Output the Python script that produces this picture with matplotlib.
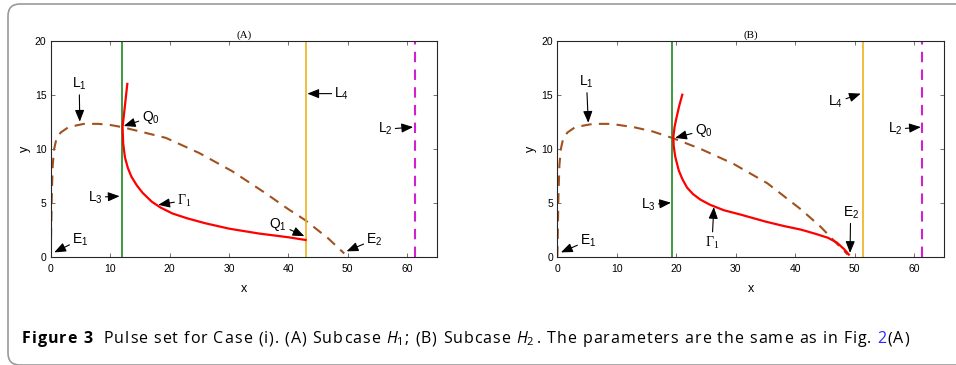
import numpy as np
import matplotlib
matplotlib.use('Agg')
import matplotlib.pyplot as plt
from matplotlib.patches import FancyBboxPatch
from matplotlib.transforms import IdentityTransform
from matplotlib.font_manager import FontProperties

plt.rcParams['font.family'] = ['Liberation Sans Narrow', 'Liberation Sans', 'DejaVu Sans']
plt.rcParams['mathtext.fontset'] = 'custom'
plt.rcParams['mathtext.rm'] = 'Open Sans'
plt.rcParams['mathtext.it'] = 'Open Sans:italic'
plt.rcParams['mathtext.bf'] = 'Open Sans:bold'

# ---- data ----
# panel A
l1a_x = [0, 0.1, 0.2, 0.35, 0.6, 1.0, 1.7, 3, 5.6, 8, 10, 12, 15, 19.4, 25, 30.6, 36.1, 40, 42.8, 46.7, 49.4]
l1a_y = [0, 3, 6, 8.5, 10, 11, 11.5, 12.0, 12.3, 12.3, 12.2, 12.0, 11.6, 11.0, 9.6, 7.9, 5.9, 4.4, 3.4, 1.7, 0.3]
g1a_x = [12.9, 12.6, 12.3, 12.1, 12.2, 12.5, 13.0, 13.6, 14.5, 15.5, 17.0, 18.5, 20.5, 23, 26, 30, 35, 40, 42.9]
g1a_y = [16.0, 14.5, 13.0, 12.0, 10.5, 9.2, 8.2, 7.4, 6.6, 5.9, 5.1, 4.55, 4.0, 3.55, 3.1, 2.6, 2.15, 1.8, 1.55]
vlines_a = {'L3': 12.0, 'L4': 43.0, 'L2': 61.3}

# panel B
l1b_x = [0, 0.1, 0.2, 0.35, 0.6, 1.0, 1.7, 3, 6, 9, 12.8, 16, 19.3, 24, 29.6, 35.3, 40.9, 44.2, 47, 48.8]
l1b_y = [0, 3, 6, 8.5, 10, 11, 11.5, 12, 12.3, 12.3, 12.0, 11.6, 11.0, 10.0, 8.6, 6.8, 4.4, 2.8, 1.2, 0.2]
g1b_x = [21.0, 20.5, 20.0, 19.7, 19.5, 19.55, 19.8, 20.4, 21.0, 21.8, 22.8, 24.0, 25.7, 28, 30.8, 35, 38, 41,
         43.5, 45.5, 47, 48.2, 49.0]
g1b_y = [15.0, 14.0, 12.8, 12.0, 11.1, 10.3, 9.3, 8.0, 7.2, 6.4, 5.8, 5.3, 4.8, 4.3, 3.9, 3.25, 2.85, 2.5,
         2.1, 1.75, 1.3, 0.7, 0.2]
vlines_b = {'L3': 19.3, 'L4': 51.4, 'L2': 61.3}

# labels: (letter, subscript, text pos, arrow head)
ann_a = [
    ('L', '1', (4.8, 16.0), (4.9, 12.5)),
    ('Q', '0', (16.8, 12.9), (12.3, 12.1)),
    ('L', '3', (7.5, 5.5), (11.6, 5.6)),
    ('Γ', '1', (22.5, 5.2), (18.1, 4.8)),
    ('Q', '1', (38.3, 3.0), (42.7, 1.9)),
    ('E', '1', (5.0, 1.6), (0.6, 0.4)),
    ('L', '4', (49.0, 15.1), (43.2, 15.1)),
    ('L', '2', (56.3, 11.8), (61.0, 12.0)),
    ('E', '2', (54.5, 1.6), (49.8, 0.5)),
]
ann_b = [
    ('L', '1', (4.9, 16.2), (5.2, 12.4)),
    ('Q', '0', (24.6, 11.7), (19.8, 11.0)),
    ('L', '3', (15.3, 4.8), (19.1, 5.0)),
    ('Γ', '1', (26.0, 1.3), (26.3, 4.6)),
    ('E', '1', (5.2, 1.5), (0.6, 0.4)),
    ('L', '4', (46.8, 14.3), (51.0, 15.1)),
    ('L', '2', (56.8, 11.8), (61.1, 12.0)),
    ('E', '2', (49.3, 4.1), (49.2, 0.35)),
]

caption_bold = 'Figure 3'
caption_main = ['Pulse set for Case (i). (A) Subcase ', '$H_1$', '; (B) Subcase ', '$H_2$',
                '. The parameters are the same as in Fig. ']
caption_link = '2'
caption_end = '(A)'

brown = '#A0521E'
green = '#1A8A1A'
orange = '#EDB120'
magenta = '#D020D0'

fig = plt.figure(figsize=(9.56, 3.65), dpi=100)
axA = fig.add_axes([0.053, 0.2967, 0.404, 0.5918])
axB = fig.add_axes([0.583, 0.2967, 0.4045, 0.5918])


def draw_panel(ax, title, l1x, l1y, gx, gy, vl, anns):
    ax.plot(l1x, l1y, color=brown, lw=1.5, dashes=(5, 3.5))
    ax.axvline(vl['L3'], color=green, lw=1.2)
    ax.axvline(vl['L4'], color=orange, lw=1.2)
    ax.axvline(vl['L2'], color=magenta, lw=1.5, dashes=(5, 3.5))
    ax.plot(gx, gy, color='red', lw=1.6)
    ax.set_xlim(0, 65)
    ax.set_ylim(0, 20)
    ax.set_xticks([0, 10, 20, 30, 40, 50, 60])
    ax.set_yticks([0, 5, 10, 15, 20])
    ax.tick_params(direction='in', top=True, right=True, length=3, width=0.6,
                   labelsize=7.5, color='0.35')
    ax.tick_params(axis='x', pad=5)
    ax.tick_params(axis='y', pad=3)
    for s in ax.spines.values():
        s.set_linewidth(0.8)
        s.set_color('0.15')
    ax.set_xlabel('x', fontsize=9, labelpad=7)
    ax.set_ylabel('y', fontsize=9, labelpad=3, rotation=90)
    ax.set_title(title, fontsize=8, family='Liberation Serif', pad=2)
    for base, sub, txy, hxy in anns:
        fam = 'Liberation Serif' if base == 'Γ' else ['Liberation Sans Narrow', 'Liberation Sans']
        ax.annotate('$\\mathregular{%s_{%s}}$' % (base, sub), xy=hxy, xytext=txy,
                    ha='center', va='center', fontsize=10, family=fam,
                    arrowprops=dict(arrowstyle='-|>,head_length=0.7,head_width=0.28',
                                    color='black', lw=0.8, shrinkA=0, shrinkB=0))


draw_panel(axA, '(A)', l1a_x, l1a_y, g1a_x, g1a_y, vlines_a, ann_a)
draw_panel(axB, '(B)', l1b_x, l1b_y, g1b_x, g1b_y, vlines_b, ann_b)

# gray rounded frame
frame = FancyBboxPatch((8, 0), 1100, 361, boxstyle='round,pad=0,rounding_size=12',
                       transform=IdentityTransform(), fill=False,
                       edgecolor='#9a9a9a', lw=1.2, clip_on=False)
fig.patches.append(frame)

# caption, laid out glyph by glyph with a little tracking to match the width
fig.canvas.draw()
r = fig.canvas.get_renderer()
y_cap = 1 - 343 / 365
cap_size = 11.5


def text_w(s, weight, ismath=False):
    prop = FontProperties(family='Open Sans', weight=weight, size=cap_size)
    return r.get_text_width_height_descent(s, prop, ismath=ismath)[0]


tokens = [(c, 'bold', 'black') for c in caption_bold] + [(' ', 'bold', 'black'), (' ', 'normal', 'black')]
for seg in caption_main:
    if seg.startswith('$'):
        tokens.append((seg, 'normal', 'black'))
    else:
        tokens += [(c, 'normal', 'black') for c in seg]
tokens += [(c, 'normal', '#2a2aff') for c in caption_link]
tokens += [(c, 'normal', 'black') for c in caption_end]

widths = []
for tok, w, c in tokens:
    if tok.startswith('$'):
        widths.append(text_w(tok, w, ismath=True) + 1)
    else:
        widths.append(text_w(tok + 'H', w) - text_w('H', w))
x_start, x_end = 22, 909
track = (x_end - x_start - sum(widths)) / (len(tokens) - 1)
xpix = x_start
for (tok, w, c), wd in zip(tokens, widths):
    if tok != ' ':
        fig.text(xpix / 956, y_cap, tok, fontsize=cap_size, family='Open Sans', weight=w,
                 color=c, va='baseline', ha='left')
    xpix += wd + track

fig.savefig('out.png', dpi=100)
